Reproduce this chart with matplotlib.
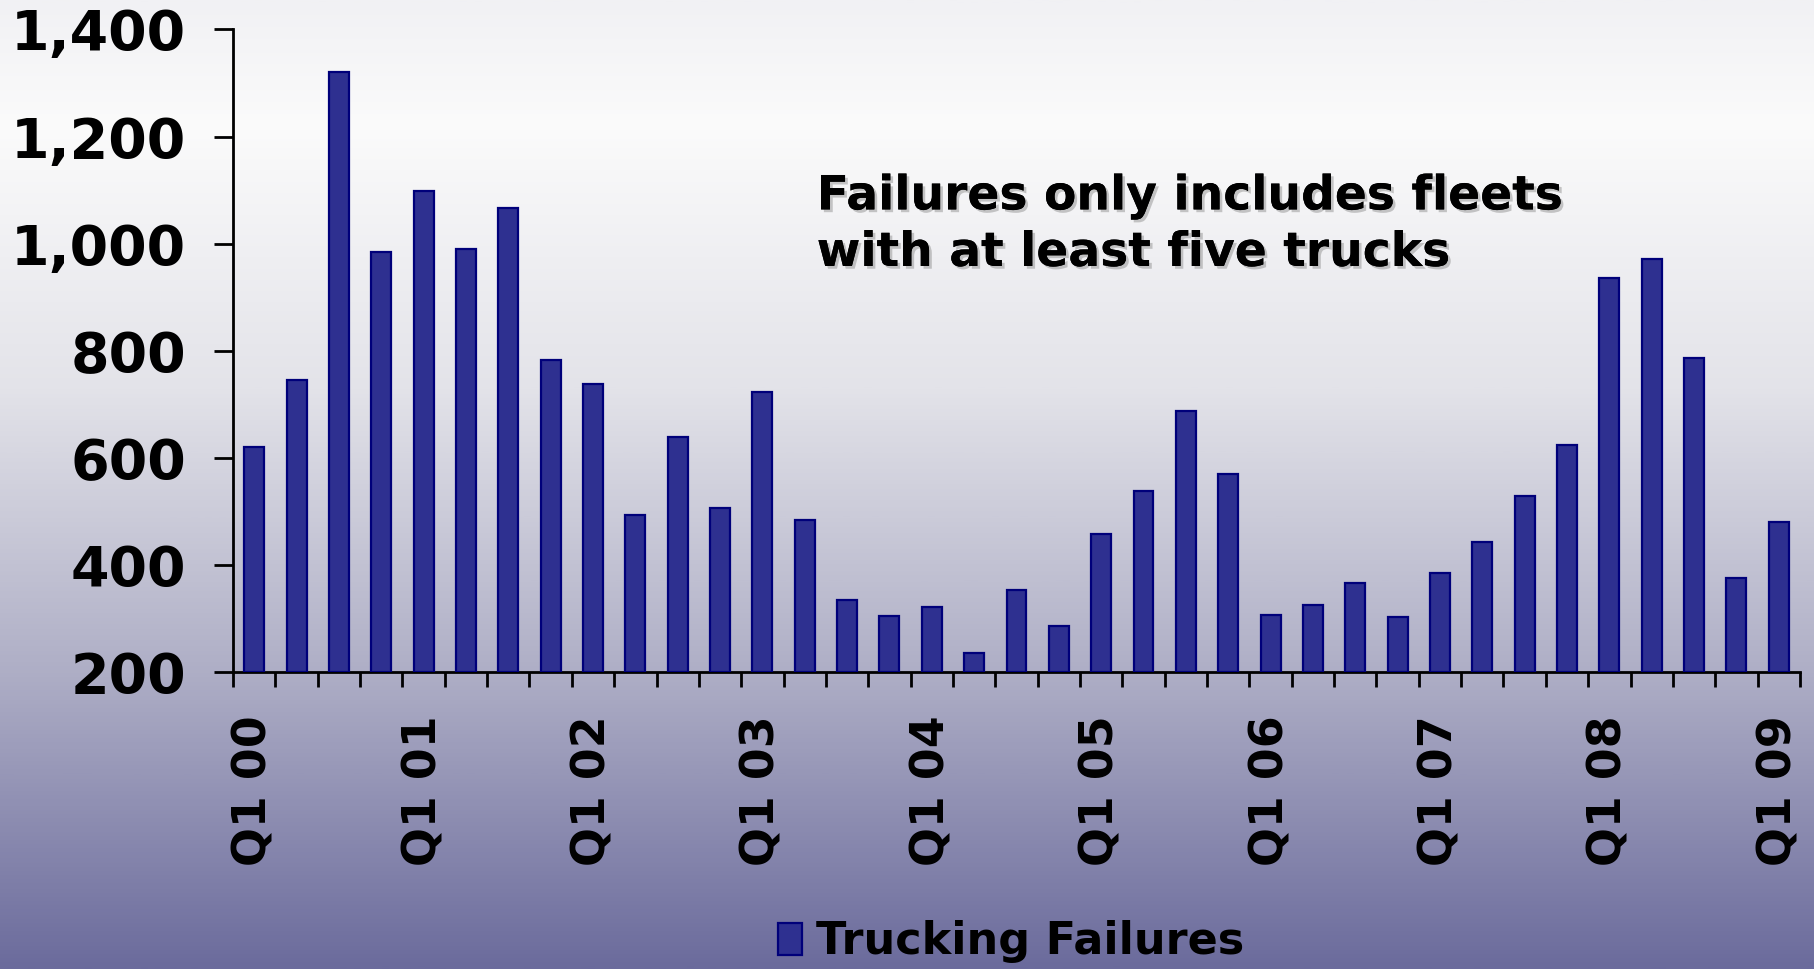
import numpy as np
import matplotlib
matplotlib.use('Agg')
import matplotlib.pyplot as plt
import matplotlib.patheffects as pe
from matplotlib.colors import LinearSegmentedColormap
from matplotlib.ticker import FuncFormatter

# quarterly trucking failures, Q1 2000 .. Q1 2009
quarters = ['Q1 00', 'Q2 00', 'Q3 00', 'Q4 00',
            'Q1 01', 'Q2 01', 'Q3 01', 'Q4 01',
            'Q1 02', 'Q2 02', 'Q3 02', 'Q4 02',
            'Q1 03', 'Q2 03', 'Q3 03', 'Q4 03',
            'Q1 04', 'Q2 04', 'Q3 04', 'Q4 04',
            'Q1 05', 'Q2 05', 'Q3 05', 'Q4 05',
            'Q1 06', 'Q2 06', 'Q3 06', 'Q4 06',
            'Q1 07', 'Q2 07', 'Q3 07', 'Q4 07',
            'Q1 08', 'Q2 08', 'Q3 08', 'Q4 08',
            'Q1 09']
failures = [620, 745, 1320, 985, 1098, 990, 1067, 783,
            738, 494, 639, 507, 724, 485, 336, 305,
            322, 237, 354, 286, 458, 539, 688, 570,
            308, 326, 367, 304, 385, 444, 530, 625,
            936, 972, 787, 377, 480]
yticks = [200, 400, 600, 800, 1000, 1200, 1400]
note = 'Failures only includes fleets\nwith at least five trucks'

plt.rcParams['font.family'] = ['DejaVu Sans']
plt.rcParams['font.weight'] = 'bold'

fig = plt.figure(figsize=(18.15, 9.69), dpi=100)

# background gradient (whole slide)
bg = fig.add_axes([0, 0, 1, 1], zorder=-10)
cmap = LinearSegmentedColormap.from_list('bg', [
    (0.0, '#f1f1f4'), (0.13, '#fbfbfb'), (0.40, '#e3e3e9'),
    (0.70, '#adadc5'), (1.0, '#6b6b9c')])
grad = np.linspace(0, 1, 512).reshape(-1, 1)
bg.imshow(grad, aspect='auto', cmap=cmap, extent=[0, 1, 1, 0])
bg.set_axis_off()

ax = fig.add_axes([0.1284, 0.306, 0.8633, 0.6636])
ax.patch.set_alpha(0)

x = np.arange(len(quarters))
ax.bar(x, np.array(failures) - 200, bottom=200, width=0.47,
       color='#2e3090', edgecolor='#00007a', linewidth=1.6,
       label='Trucking Failures', zorder=3)

ax.set_xlim(-0.5, len(quarters) - 0.5)
ax.set_ylim(200, 1400)
ax.set_yticks(yticks)
ax.yaxis.set_major_formatter(FuncFormatter(lambda v, p: f'{int(v):,}'))

ax.set_xticks(x[::4])
ax.set_xticklabels(quarters[::4], rotation=90)
ax.set_xticks(np.arange(-0.5, len(quarters)), minor=True)

for s in ['top', 'right']:
    ax.spines[s].set_visible(False)
for s in ['left', 'bottom']:
    ax.spines[s].set_linewidth(2)
    ax.spines[s].set_color('black')

ax.tick_params(axis='y', length=14, width=2, pad=20, labelsize=40)
ax.tick_params(axis='x', which='major', length=0, pad=31, labelsize=33)
ax.tick_params(axis='x', which='minor', length=11, width=2)
for lab in ax.get_xticklabels() + ax.get_yticklabels():
    lab.set_fontweight('bold')

fig.text(0.450, 0.820, note, fontsize=34, fontweight='bold', va='top',
         ha='left', linespacing=1.33,
         path_effects=[pe.withSimplePatchShadow(offset=(2, -2),
                                                shadow_rgbFace='#9a9a9a',
                                                alpha=0.55),
                       pe.Normal()])

leg = fig.legend(loc='center', bbox_to_anchor=(0.557, 0.028), frameon=False,
                 prop={'size': 32, 'weight': 'bold'}, handlelength=0.55,
                 handleheight=0.75, handletextpad=0.3)

fig.savefig('out.png', dpi=100)
